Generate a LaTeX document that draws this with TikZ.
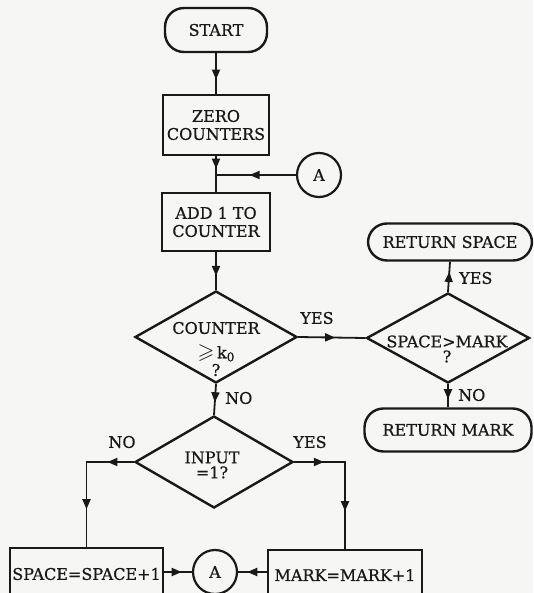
\documentclass[tikz,border=0pt]{standalone}
\usepackage{amssymb}
\usepackage{graphicx}
\usepackage{fontspec}
\setmainfont{DejaVu Serif}[FakeBold=0.7]
\usetikzlibrary{shapes.geometric,arrows.meta,decorations.markings}
\definecolor{paper}{RGB}{246,246,244}
\definecolor{ink}{RGB}{25,25,25}
\tikzset{
  txt/.style={font=\fontsize{16}{18}\selectfont, text=ink, align=center, inner sep=0pt},
  lbl/.style={font=\fontsize{16}{18}\selectfont, text=ink, inner sep=0pt},
  boxnode/.style={draw=ink, line width=2.6pt, rectangle, inner sep=0pt, txt},
  termnode/.style={draw=ink, line width=2.4pt, rectangle, rounded corners=19pt, inner sep=0pt, txt},
  dianode/.style={draw=ink, line width=2.4pt, diamond, inner sep=0pt},
  circnode/.style={draw=ink, line width=2.2pt, circle, minimum size=44pt, inner sep=0pt, txt},
  conn/.style={draw=ink, line width=1.8pt},
  arrone/.style={postaction={decorate}, decoration={markings,
      mark=at position #1 with {\arrow[ink]{Triangle[length=10pt,width=8pt]}}}},
  arrtwo/.style n args={2}{postaction={decorate}, decoration={markings,
      mark=at position #1 with {\arrow[ink]{Triangle[length=10pt,width=8pt]}},
      mark=at position #2 with {\arrow[ink]{Triangle[length=10pt,width=8pt]}}}},
}
\begin{document}
\begin{tikzpicture}[x=1pt,y=-1pt]
\useasboundingbox (0,0) rectangle (533,593);
\clip (0,0) rectangle (533,593);
\fill[paper] (0,0) rectangle (533,593);

% nodes
\node[termnode, minimum width=102pt, minimum height=44pt] (start) at (216,30) {START};
\node[boxnode, minimum width=106pt, minimum height=60pt] (zero) at (216,125) {ZERO\\COUNTERS};
\node[circnode] (atop) at (319,175) {A};
\coordinate (j) at (216,175);
\node[boxnode, minimum width=108pt, minimum height=58pt] (add) at (216,222) {ADD 1 TO\\COUNTER};
\node[dianode, minimum width=162pt, minimum height=92pt] (counter) at (216,337) {};
\node[txt] (c1) at (216,328) {COUNTER};
\node[txt] (c2) at (216,353) {\textcolor{ink}{\scalebox{1.35}{$\geqslant$}}\,k\raisebox{-3pt}{\fontsize{12}{12}\selectfont 0}};
\node[txt] (c3) at (216,370) {?};
\node[dianode, minimum width=158pt, minimum height=92pt] (input) at (214,462) {};
\node[txt, font=\fontsize{16}{15}\selectfont] at (212,465) {INPUT\\=1?};
\node[dianode, minimum width=163pt, minimum height=90pt] (spm) at (448,338) {};
\node[txt, font=\fontsize{16}{15}\selectfont] at (447,349) {SPACE>MARK\\?};
\node[termnode, minimum width=164pt, minimum height=37pt] (retspace) at (450,242) {RETURN SPACE};
\node[termnode, minimum width=167pt, minimum height=43pt] (retmark) at (448,430) {RETURN MARK};
\node[boxnode, minimum width=153pt, minimum height=52pt] (spacebox) at (86.5,574) {SPACE=SPACE+1};
\node[boxnode, minimum width=154pt, minimum height=50pt] (markbox) at (345,575) {MARK=MARK+1};
\node[circnode] (abot) at (215,572) {A};

% connectors
\draw[conn, arrone=0.65] (start.south) -- (zero.north);
\draw[conn, arrone=0.35] (zero.south) -- (add.north);
\draw[conn, arrone=0.58] (atop.west) -- (j);
\draw[conn, arrone=0.63] (add.south) -- (counter.north);
\draw[conn, arrone=0.55] (counter.east) -- (spm.west);
\draw[conn, arrone=0.59] (counter.south) -- (input.north);
\draw[conn, arrtwo={0.2}{0.716}] (input.west) -| (spacebox.north);
\draw[conn, arrtwo={0.216}{0.727}] (input.east) -| (markbox.north);
\draw[conn, arrone=0.63] (spacebox.east |- abot) -- (abot.west);
\draw[conn, arrone=0.68] (markbox.west |- abot) -- (abot.east);
\draw[conn, arrone=0.66] (spm.north) -- (retspace.south);
\draw[conn, arrone=0.65] (spm.south) -- (retmark.north);

% labels
\node[lbl] at (317,318) {YES};
\node[lbl, anchor=west] at (225,398) {NO};
\node[lbl] at (122,442) {NO};
\node[lbl] at (310,442) {YES};
\node[lbl, anchor=west] at (459,278) {YES};
\node[lbl, anchor=west] at (458,395) {NO};
\end{tikzpicture}
\end{document}
